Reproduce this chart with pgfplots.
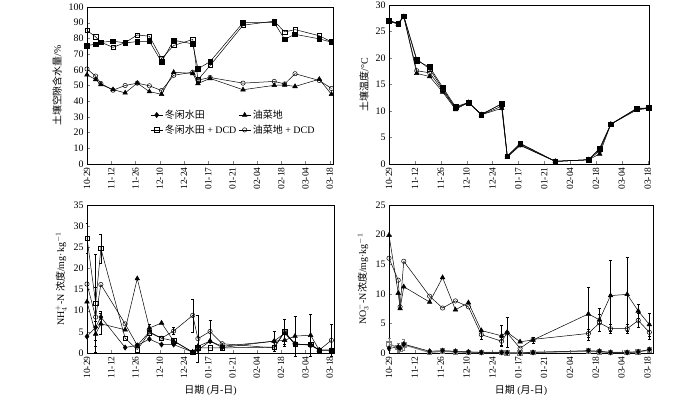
\documentclass[border=0pt]{standalone}
\usepackage{fontspec}
\setmainfont{Liberation Serif}
\newfontfamily\cjk{Noto Sans CJK SC}
\usepackage{pgfplots}
\pgfplotsset{compat=1.18}
\pgfplotsset{
  base/.style={
    scale only axis, tick align=inside, tick pos=left, xmin=0,
    xtick={0,14,28,42,56,70,84,98,112,126,140},
    xticklabels={10-29,11-12,11-26,12-10,12-24,01-17,01-21,02-04,02-18,03-04,03-18},
    xticklabel style={rotate=90, anchor=east, font=\fontsize{9.5}{9.5}\selectfont},
    yticklabel style={font=\fontsize{10}{10}\selectfont},
    /pgf/number format/assume math mode=true,
    major tick length=3bp,
    axis line style={line width=0.6bp},
    clip=false,
    label style={font=\fontsize{10}{11}\selectfont},
    every axis plot/.append style={line width=0.5bp},
  },
  s1/.style={black, mark=diamond*, mark options={fill=black, solid}, mark size=2.6},
  s1q/.style={black, mark=square*, mark options={fill=black, solid}, mark size=2.3},
  s2/.style={black, mark=triangle*, mark options={fill=black, solid}, mark size=2.7},
  s3/.style={black, mark=square, mark options={fill=white, solid}, mark size=2.2},
  s4/.style={black, mark=o, mark options={fill=white, solid}, mark size=2.2},
  eb/.style={error bars/.cd, y dir=both, y explicit, error bar style={line width=0.4bp}, error mark options={rotate=90, mark size=1.5, line width=0.4bp}},
}
\begin{document}
\begin{tikzpicture}[x=1bp,y=1bp]
\useasboundingbox (0,0) rectangle (700,399);
% ---------- top left ----------
\begin{axis}[base, at={(87bp,235bp)}, anchor=south west, width=246bp, height=157bp,
  xmax=141.9, ymin=0, ymax=100, ytick={0,10,...,100},
  ylabel={{\cjk 土壤空隙含水量}/\%},
  legend style={draw=none, fill=none, at={(0.245,0.37)}, anchor=north west,
    font=\fontsize{10}{12}\selectfont, row sep=1bp},
  legend columns=2,
  legend cell align=left,
  legend image code/.code={\draw[mark repeat=2,mark phase=2] plot coordinates {(0bp,0bp)(6bp,0bp)(12bp,0bp)};},
  ]
\addlegendimage{s1}\addlegendentry{{\cjk 冬闲水田}\hspace{40bp}}
\addlegendimage{s2}\addlegendentry{{\cjk 油菜地}}
\addlegendimage{s3}\addlegendentry{{\cjk 冬闲水田} + DCD}
\addlegendimage{s4}\addlegendentry{{\cjk 油菜地} + DCD}
\addplot[s2, forget plot] coordinates {(0,56.8)(5,53.8)(8,50.6)(15,47.4)(22,45.3)(29,51.5)(36,46.1)(43,44.4)(50,58.4)(61,57.7)(64,51.3)(71,54.5)(90,47.3)(108,50.1)(114,50.3)(120,49.4)(134,54.0)(141,44.4)};
\addplot[s4, forget plot] coordinates {(0,60.5)(5,56.0)(8,51.3)(15,47.0)(22,50.0)(29,51.5)(36,49.8)(43,46.8)(50,56.5)(61,58.5)(64,53.4)(71,55.1)(90,51.5)(108,52.6)(114,51.0)(120,57.5)(134,53.2)(141,48.1)};
\addplot[s3, forget plot] coordinates {(0,85.0)(5,81.0)(8,77.6)(15,74.3)(22,77.3)(29,82.2)(36,81.4)(43,67.1)(50,75.5)(61,79.3)(64,53.6)(71,62.7)(90,88.4)(108,91.0)(114,84.1)(120,85.6)(134,81.7)(141,77.8)};
\addplot[s1q, forget plot] coordinates {(0,75.4)(5,76.4)(8,77.5)(15,78.3)(22,77.1)(29,78.0)(36,78.2)(43,65.0)(50,78.8)(61,76.5)(64,60.6)(71,65.2)(90,90.0)(108,90.0)(114,79.5)(120,82.6)(134,79.7)(141,77.6)};
\end{axis}
% ---------- top right ----------
\begin{axis}[base, at={(389bp,235bp)}, anchor=south west, width=260bp, height=159bp,
  xmax=140.7, ymin=0, ymax=30, ytick={0,5,...,30},
  ylabel={{\cjk 土壤温度}/°C},
  ]
\addplot[s2] coordinates {(0,26.9)(5,26.4)(8,27.8)(15,17.1)(22,16.5)(29,13.6)(36,10.3)(43,11.6)(50,9.3)(61,10.5)(64,1.3)(71,3.5)(90,0.5)(108,0.8)(114,1.9)(120,7.5)(134,10.2)(140.7,10.5)};
\addplot[s4] coordinates {(0,27.0)(5,26.5)(8,27.8)(15,17.6)(22,17.2)(29,13.9)(36,10.5)(43,11.6)(50,9.3)(61,10.9)(64,1.4)(71,3.6)(90,0.5)(108,0.8)(114,2.5)(120,7.5)(134,10.4)(140.7,10.5)};
\addplot[s3] coordinates {(0,27.0)(5,26.6)(8,27.9)(15,19.8)(22,17.9)(29,14.2)(36,10.6)(43,11.6)(50,9.3)(61,11.4)(64,1.5)(71,3.8)(90,0.5)(108,0.8)(114,2.8)(120,7.5)(134,10.4)(140.7,10.5)};
\addplot[s1q] coordinates {(0,27.0)(5,26.5)(8,27.9)(15,19.5)(22,18.3)(29,14.5)(36,10.8)(43,11.6)(50,9.4)(61,11.3)(64,1.5)(71,3.9)(90,0.5)(108,0.8)(114,3.0)(120,7.5)(134,10.5)(140.7,10.6)};
\end{axis}
% ---------- bottom left ----------
\begin{axis}[base, at={(87bp,46bp)}, anchor=south west, width=247bp, height=148bp,
  xmax=142.5, ymin=0, ymax=35, ytick={0,5,...,35},
  ylabel={NH$_4^+$-N {\cjk 浓度}/mg·kg$^{-1}$},
  xlabel={{\cjk 日期} ({\cjk 月}-{\cjk 日})},
  ]
\addplot[s2, eb] coordinates {(0,12.1)(5,4.5)+-(0,1.5)(8,6.9)+-(0,2.5)(22,5.5)(29,17.6)(36,5.9)+-(0,0.8)(43,7.1)(50,2.8)(61,0.2)(64,1.6)(71,2.8)(78,1.6)(108,2.8)+-(0,2.3)(114,3.0)+-(0,1.5)(120,4.0)+-(0,4.8)(129,4.2)+-(0,4.9)(134,0.7)(141,0.7)};
\addplot[s4, eb] coordinates {(0,16.3)(5,8.5)+-(0,7)(8,16.2)(22,6.9)(29,1.8)(36,5.0)(43,3.5)(50,5.2)+-(0,0.8)(61,8.9)+-(0,3.9)(64,3.4)+-(0,5.6)(71,5.1)+-(0,2.6)(78,2.2)(108,1.2)(114,5.0)+-(0,2.9)(120,2.2)(129,1.8)(134,0.7)(141,3.0)+-(0,3.8)};
\addplot[s3, eb] coordinates {(0,27.2)+-(0,3.5)(5,11.8)+-(0,11.5)(8,24.7)+-(0,3.5)(22,3.5)(29,0.8)(36,4.8)(43,3.5)(50,2.9)(61,0.2)(64,1.2)(71,1.2)(78,1.2)(108,1.4)(114,5.0)(120,2.0)(129,2.0)(134,0.7)(141,0.7)};
\addplot[s1, eb] coordinates {(0,3.9)(5,6.1)+-(0,1.5)(8,8.5)+-(0,1.5)(22,1.3)(29,1.8)(36,3.3)(43,2.0)(50,2.0)(61,0.2)(64,0.7)(71,2.8)(78,1.3)(108,2.8)(114,4.7)(120,2.1)(129,2.0)(134,0.7)(141,0.7)};
\end{axis}
% ---------- bottom right ----------
\begin{axis}[base, at={(389bp,46bp)}, anchor=south west, width=264bp, height=148bp,
  xmax=143, ymin=0, ymax=25, ytick={0,5,...,25},
  ylabel={NO$_3^-$-N{\cjk 浓度}/mg·kg$^{-1}$},
  xlabel={{\cjk 日期} ({\cjk 月}-{\cjk 日})},
  ]
\addplot[s2, eb] coordinates {(0,19.9)(5,10.1)(6,7.5)(8,11.2)(22,8.6)(29,12.75)(36,7.3)(43,8.5)(50,3.8)(61,2.9)+-(0,1.8)(64,3.5)+-(0,2.5)(71,1.9)(78,2.2)+-(0,0.5)(108,6.6)+-(0,4.5)(114,5.6)+-(0,1.9)(120,9.7)+-(0,6.0)(129,9.9)+-(0,6.2)(135,7.1)+-(0,1.2)(141,4.8)+-(0,2.0)};
\addplot[s4, eb] coordinates {(0,16.0)(5,12.3)(6,7.8)(8,15.5)(22,9.6)(29,7.6)(36,8.8)(43,7.8)(50,3.1)+-(0,0.8)(61,2.0)+-(0,0.6)(64,3.4)(71,0.8)(78,2.3)(108,3.3)+-(0,0.7)(114,5.1)+-(0,1.5)(120,4.1)+-(0,0.8)(129,4.1)+-(0,0.8)(135,5.5)+-(0,1.2)(141,3.5)+-(0,1.2)};
\addplot[s3, gray, mark options={draw=gray}, line width=1.2bp, eb] coordinates {(0,1.5)+-(0,1.0)(5,0.9)+-(0,0.8)(6,0.6)(8,1.4)+-(0,1.0)(22,0.1)(29,0.3)(36,0.2)(43,0.1)(50,0.1)(61,0.1)(64,0.0)(71,0.0)(78,0.1)(108,0.3)(114,0.2)(120,0.1)(129,0.1)(135,0.2)(141,0.5)};
\addplot[s1, eb] coordinates {(0,0.8)(5,1.0)(6,0.8)(8,1.5)(22,0.3)(29,0.4)(36,0.3)(43,0.2)(50,0.1)(61,0.1)(64,0.05)(71,0.0)(78,0.1)(108,0.4)(114,0.3)(120,0.1)(129,0.1)(135,0.2)(141,0.6)};
\end{axis}
\end{tikzpicture}
\end{document}
